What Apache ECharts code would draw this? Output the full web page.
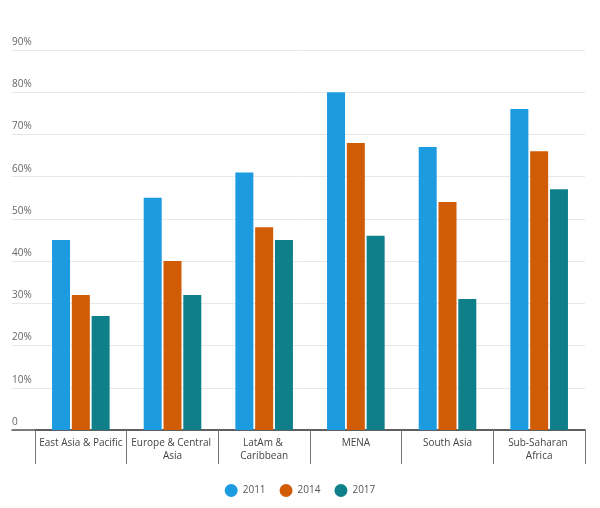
<!DOCTYPE html>
<html><head><meta charset="utf-8">
<script src="https://cdn.jsdelivr.net/npm/echarts@6/dist/echarts.min.js"></script>
<style>html,body{margin:0;padding:0;background:#fff}#c{width:600px;height:508px}</style>
</head><body><div id="c"></div>
<script>
var categories = ['East Asia & Pacific', 'Europe & Central Asia', 'LatAm & Caribbean', 'MENA', 'South Asia', 'Sub-Saharan Africa'];
var years = ['2011', '2014', '2017'];
var v2011 = [45, 55, 61, 80, 67, 76];
var v2014 = [32, 40, 48, 68, 54, 66];
var v2017 = [27, 32, 45, 46, 31, 57];
var colors = ['#1c9be0', '#d15c06', '#0f7f8a'];
var font = 'Open Sans';
var chart = echarts.init(document.getElementById('c'));
chart.setOption({
  animation: false,
  textStyle: {fontFamily: font},
  color: colors,
  legend: {
    data: years, bottom: 6, left: 'center', icon: 'circle', itemWidth: 13, itemHeight: 13, itemGap: 14,
    textStyle: {fontFamily: font, fontSize: 10, color: '#555'}
  },
  grid: [
    {left: 12, right: 15, top: 50, bottom: 78},
    {left: 35, right: 15, top: 50, bottom: 78}
  ],
  xAxis: [
    {gridIndex: 0, type: 'value', min: 0, max: 1, show: true, axisLine: {show: true, lineStyle: {color: '#555', width: 1.5}}, axisTick: {show: false}, axisLabel: {show: false}, splitLine: {show: false}},
    {gridIndex: 1, type: 'category', data: categories,
     axisLine: {show: true, lineStyle: {color: '#555', width: 1.5}},
     axisTick: {show: true, length: 34, lineStyle: {color: '#777'}},
     axisLabel: {interval: 0, margin: 7, fontSize: 10, color: '#444', fontFamily: font, lineHeight: 13, width: 86, overflow: 'break'}}
  ],
  yAxis: [
    {gridIndex: 0, type: 'value', min: 0, max: 90, interval: 10,
     axisLine: {show: false}, axisTick: {show: false},
     axisLabel: {inside: true, margin: 0, verticalAlign: 'bottom', padding: [0, 0, 3, 0], fontSize: 10, color: '#666', fontFamily: font,
       formatter: function (v) { return v === 0 ? '0' : v + '%'; }},
     splitLine: {lineStyle: {color: '#e8e8e8'}}},
    {gridIndex: 1, type: 'value', min: 0, max: 90, interval: 10, show: false, splitLine: {show: false}}
  ],
  series: [
    {name: years[0], type: 'bar', xAxisIndex: 1, yAxisIndex: 1, data: v2011, barWidth: 18, barGap: '10%'},
    {name: years[1], type: 'bar', xAxisIndex: 1, yAxisIndex: 1, data: v2014, barWidth: 18, barGap: '10%'},
    {name: years[2], type: 'bar', xAxisIndex: 1, yAxisIndex: 1, data: v2017, barWidth: 18, barGap: '10%'}
  ]
});
</script></body></html>
